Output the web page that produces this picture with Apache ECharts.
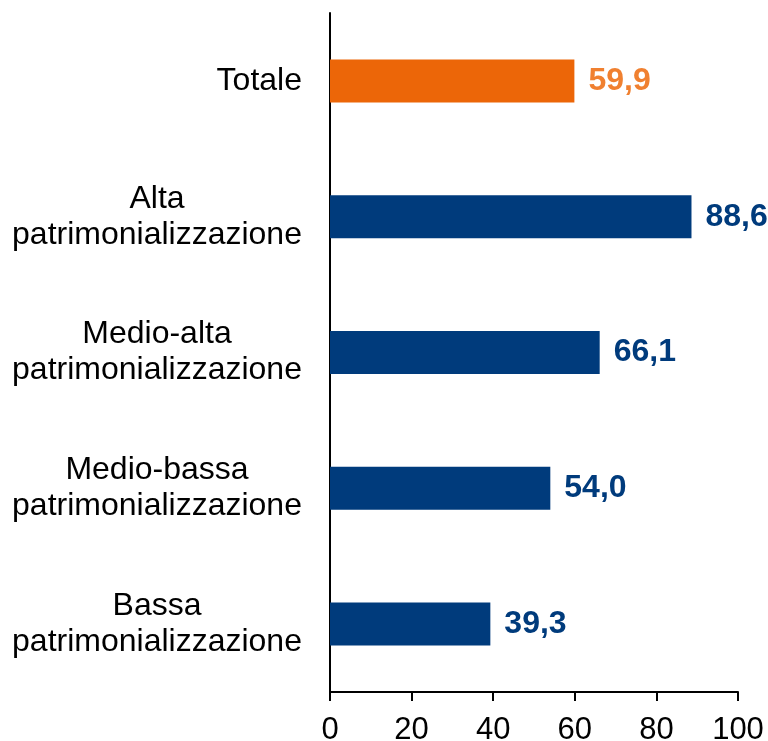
<!DOCTYPE html>
<html>
<head>
<meta charset="utf-8">
<script src="https://cdn.jsdelivr.net/npm/echarts@6/dist/echarts.min.js"></script>
<style>
html, body { margin: 0; padding: 0; background: #fff; }
#chart { width: 768px; height: 741px; }
</style>
</head>
<body>
<div id="chart"></div>
<script>
// categorie (dall'alto verso il basso)
var categorie = ['Totale', 'Alta\npatrimonializzazione', 'Medio-alta\npatrimonializzazione', 'Medio-bassa\npatrimonializzazione', 'Bassa\npatrimonializzazione'];
var valori = [59.9, 88.6, 66.1, 54.0, 39.3];
var xTicks = [0, 20, 40, 60, 80, 100];

var blu = '#003B7C';
var arancio = '#EC6608';
var arancioTesto = '#F08030';

var dati = valori.map(function (v, i) {
    var c = i == 0 ? arancio : blu;
    var t = i == 0 ? arancioTesto : blu;
    return {
        value: v,
        itemStyle: { color: c },
        label: { color: t }
    };
});

var chart = echarts.init(document.getElementById('chart'));
var option = {
    animation: false,
    grid: {
        left: 330,
        right: 30,
        top: 13,
        bottom: 49,
        containLabel: false,
        outerBoundsMode: 'none'
    },
    xAxis: {
        type: 'value',
        min: xTicks[0],
        max: xTicks[xTicks.length - 1],
        interval: 20,
        axisLine: { show: true, lineStyle: { color: '#000', width: 2 } },
        axisTick: { show: true, length: 9, lineStyle: { color: '#000', width: 2 } },
        splitLine: { show: false },
        axisLabel: {
            margin: 23,
            color: '#000',
            fontFamily: 'Liberation Sans, Arial, sans-serif',
            fontSize: 31
        }
    },
    yAxis: {
        type: 'category',
        inverse: true,
        data: categorie,
        axisLine: { show: true, lineStyle: { color: '#000', width: 2 } },
        axisTick: { show: false },
        axisLabel: {
            margin: 28,
            color: '#000',
            align: 'right',
            fontFamily: 'Liberation Sans, Arial, sans-serif',
            fontSize: 32,
            lineHeight: 36,
            formatter: function (v) {
                var righe = v.split('\n');
                if (righe.length == 1) return v;
                return righe.map(function (r) { return '{c|' + r + '}'; }).join('\n');
            },
            rich: {
                c: {
                    width: 290,
                    align: 'center',
                    fontFamily: 'Liberation Sans, Arial, sans-serif',
                    fontSize: 32,
                    lineHeight: 36,
                    color: '#000'
                }
            }
        }
    },
    series: [{
        type: 'bar',
        data: dati,
        barWidth: 43,
        label: {
            show: true,
            position: 'right',
            distance: 14,
            fontFamily: 'Liberation Sans, Arial, sans-serif',
            fontSize: 32,
            fontWeight: 'bold',
            formatter: function (p) { return p.value.toFixed(1).replace('.', ','); }
        }
    }]
};
chart.setOption(option);
</script>
</body>
</html>
